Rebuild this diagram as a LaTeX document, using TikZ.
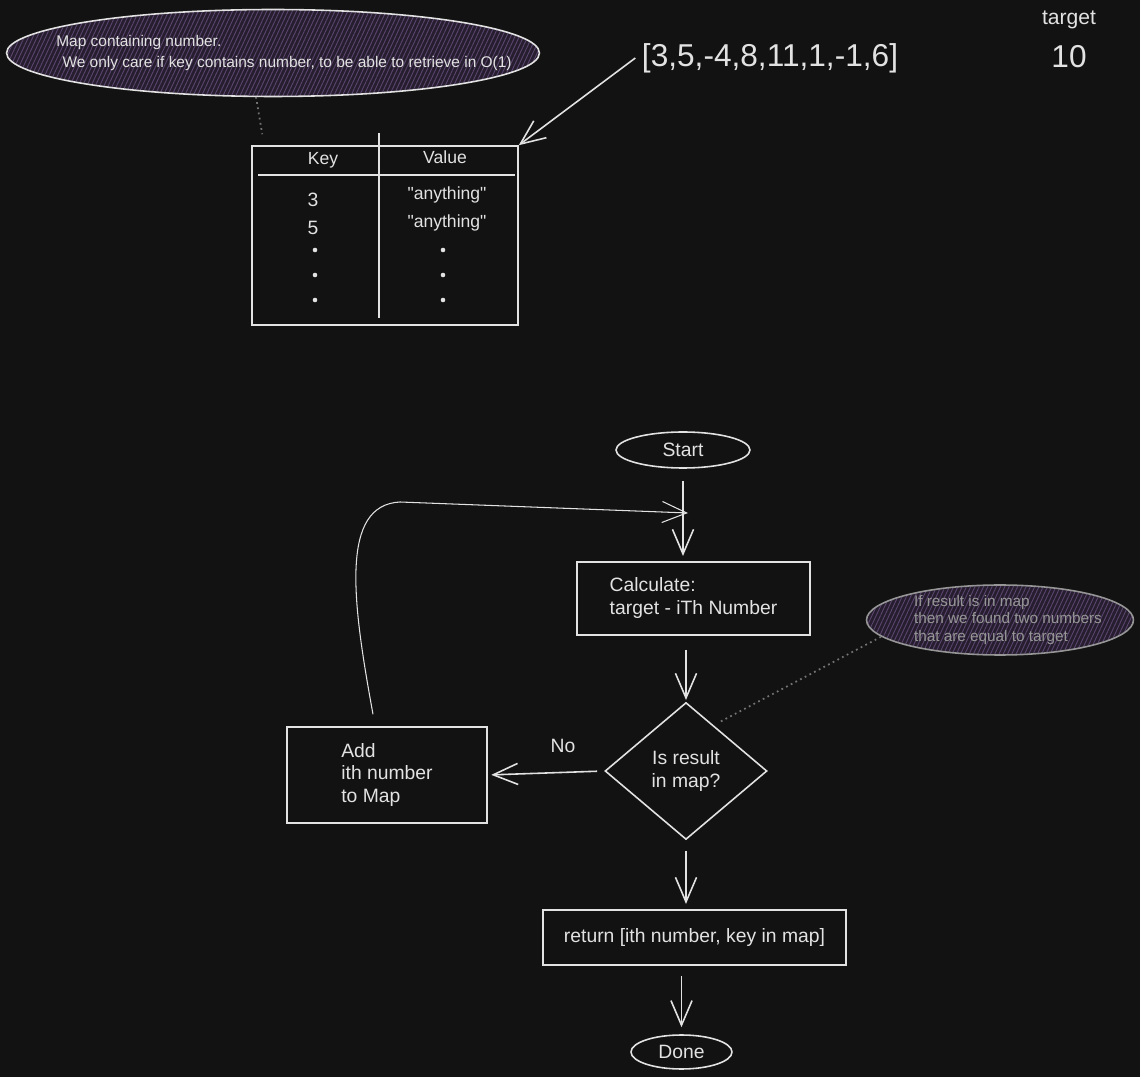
\documentclass[tikz,border=0pt]{standalone}
\usepackage{fontspec}
\setmainfont{Liberation Sans}[Ligatures=TeXOff]
\usetikzlibrary{positioning,arrows.meta,calc,shapes.geometric,patterns.meta}
\definecolor{BoardBlack}{RGB}{18,18,18}
\definecolor{ChalkWhite}{RGB}{226,226,226}
\definecolor{NotePurple}{RGB}{38,30,46}
\definecolor{HatchPurple}{RGB}{92,70,112}
\definecolor{NoteGray}{RGB}{150,150,150}
\definecolor{LinkGray}{RGB}{115,115,115}

\begin{document}
\begin{tikzpicture}[x=0.02cm, y=-0.02cm, line width=0.9pt, ChalkWhite,
  every node/.style={font=\fontsize{11}{13}\selectfont, text=ChalkWhite, align=left},
  flowbox/.style={draw, rectangle, inner sep=0pt},
  flowend/.style={draw, ellipse, inner sep=0pt, align=center},
  flowarrow/.style={-{Straight Barb[length=14pt,width=12pt]}},
  notebubble/.style={draw, ellipse, inner sep=0pt, preaction={fill=NotePurple},
    pattern={Lines[angle=65,distance=2.2pt,line width=0.5pt]}, pattern color=HatchPurple},
  notelink/.style={LinkGray, dotted, line width=1pt}]
  \fill[BoardBlack] (0,0) rectangle (1140,1077);
  \useasboundingbox (0,0) rectangle (1140,1077);

  \node[notebubble, minimum width=10.66cm, minimum height=1.74cm] (mapnote) at (273,53) {};
  \node[font=\fontsize{8.8}{12.5}\selectfont] (mapnotetext) at (284,53) {Map containing number.\\\hspace{0.4em}We only care if key contains number, to be able to retrieve in O(1)};
  \node[notebubble, draw=NoteGray, minimum width=5.34cm, minimum height=1.4cm] (resnote) at (1000,620) {};
  \node[font=\fontsize{8.7}{10}\selectfont, text=NoteGray] (resnotetext) at (1008,620) {If result is in map\\then we found two numbers\\that are equal to target};

  \node[draw, rectangle, inner sep=0pt, minimum width=5.32cm, minimum height=3.58cm] (maptbl) at (385,235.5) {};
  \draw (379,133) -- (379,318);
  \draw (258,175) -- (515,175);
  \node[font=\fontsize{10}{12}\selectfont] (keyhead) at (323,160) {Key};
  \node[font=\fontsize{10}{12}\selectfont] (valhead) at (445,157) {Value};
  \node (key3) at (313,200) {3};
  \node (key5) at (313,228) {5};
  \node[font=\fontsize{10}{12}\selectfont] (val3) at (447,195) {"anything"};
  \node[font=\fontsize{10}{12}\selectfont] (val5) at (447,223) {"anything"};
  \foreach \y in {250,275,300} {
    \fill (315,\y) circle (1.3pt);
    \fill (443,\y) circle (1.3pt);
  }

  \node[font=\fontsize{18}{22}\selectfont] (arr) at (770,58) {[3,5,-4,8,11,1,-1,6]};
  \node[font=\fontsize{12}{14}\selectfont] (tgtlbl) at (1069,20) {target};
  \node[font=\fontsize{18}{22}\selectfont] (tgtval) at (1069,57) {10};
  \draw[flowarrow] (arr.west) -- (maptbl.north east);

  \node[flowend, minimum width=2.68cm, minimum height=0.72cm] (start) at (683,450) {Start};
  \node[flowbox, minimum width=4.66cm, minimum height=1.46cm] (calc) at (693.5,598.5) {\\[-6pt]Calculate:\\target - iTh Number};
  \node[draw, diamond, aspect=1.2, inner sep=1pt, align=center, minimum width=3.24cm, minimum height=2.74cm] (check) at (686,771) {Is result\\in map?};
  \node[flowbox, minimum width=4cm, minimum height=1.92cm] (addmap) at (387,775) {Add\\ith number\\to Map};
  \node[flowbox, minimum width=6.06cm, minimum height=1.1cm] (ret) at (694.5,937.5) {return [ith number, key in map]};
  \node[flowend, minimum width=2.02cm, minimum height=0.68cm] (done) at (681.5,1052) {Done};
  \node (nolbl) at (563,746) {No};
  \coordinate (loopin) at (688,513);

  \draw[flowarrow, shorten <=7pt, shorten >=3pt] (start.south) -- (start.south |- calc.north);
  \draw[flowarrow, shorten <=8pt, shorten >=1pt] (calc.south -| check.north) -- (check.north);
  \draw[flowarrow, shorten <=4pt, shorten >=2pt] (check.west) -- (addmap.east);
  \draw[flowarrow, shorten <=6pt, shorten >=3pt] (check.south) -- (check.south |- ret.north);
  \draw[flowarrow, shorten <=6pt, shorten >=4pt] (done.north |- ret.south) -- (done.north);
  \draw[flowarrow, line width=0.6pt] ($(addmap.north)+(-14,-12)$) .. controls (352,600) and (340,505) .. (400,502) -- (loopin);

  \draw[notelink] ($(mapnote.south)+(-17,0)$) -- ($(maptbl.north west)+(11,-11)$);
  \draw[notelink] ($(check.north east)+(-6,-15)$) -- (resnote.188);
\end{tikzpicture}
\end{document}
